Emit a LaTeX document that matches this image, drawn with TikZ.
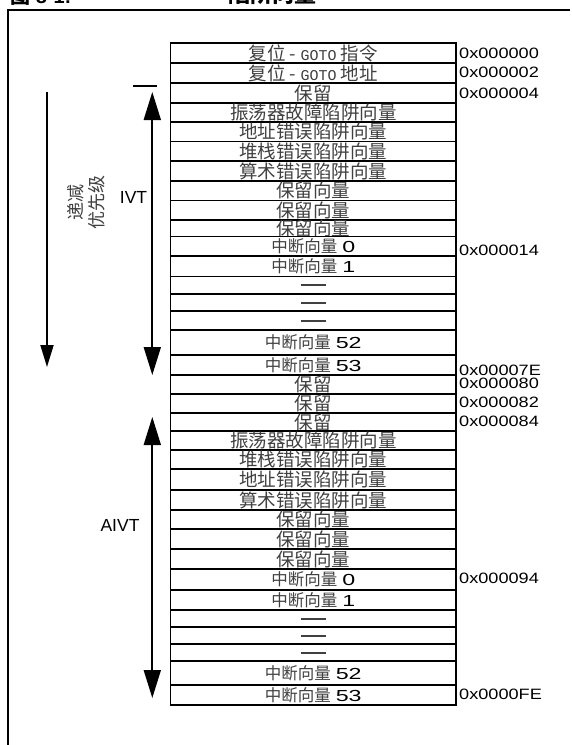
\documentclass[tikz,border=0pt]{standalone}
\usepackage{fontspec}
\setmainfont{Liberation Sans}
\newfontfamily\cjk{Noto Sans CJK SC}
\newfontfamily\monofam{Liberation Mono}
\usetikzlibrary{arrows.meta}
\tikzset{
  cell/.style={draw=black, line width=1.8pt, minimum width=285.5pt, inner sep=0pt,
    text height=14pt, text depth=0pt, font=\fontsize{18.5}{18.5}\cjk, text=black!75},
  intcell/.style={cell, text height=12pt, font=\fontsize{16.5}{16.5}\cjk},
  addr/.style={anchor=west, inner sep=0pt, font=\fontsize{15}{15}\selectfont},
  rangearrow/.style={line width=1.8pt, {Triangle[width=17pt,length=28pt]}-{Triangle[width=17pt,length=28pt]}},
  prioarrow/.style={line width=1.8pt, -{Triangle[width=13pt,length=22pt]}},
  tablabel/.style={inner sep=0pt, font=\fontsize{17.5}{17.5}\selectfont},
  frameline/.style={line width=2pt},
}
\newcommand{\dashL}{\rule[6pt]{25pt}{2pt}\hspace{26pt}}
\newcommand{\dashR}{\rule[6pt]{25pt}{2pt}\hspace{12pt}}
\newcommand{\gotoword}{{\fontsize{15}{15}\monofam GOTO}}
\newcommand{\num}[1]{\hspace{5pt}{\fontsize{16}{16}\rmfamily\color{black}\scalebox{1.45}[1]{#1}}}
\newcommand{\adr}[1]{\scalebox{1.21}[1]{#1}}
\begin{document}
\begin{tikzpicture}[x=1pt,y=-1pt]
\useasboundingbox (0,0) rectangle (571,745);
% title (cut off at top)
\node[anchor=base west, inner sep=0pt, font=\fontsize{20}{20}\bfseries] (title) at (10,3) {{\cjk 图} 8-1:};
\node[anchor=base west, inner sep=0pt, font=\fontsize{22}{22}\bfseries\cjk] (title2) at (228,2) {陷阱向量};
% frame
\coordinate (fbl) at (8,745);
\coordinate (ftl) at (8,10);
\coordinate (ftr) at (570,10);
\draw[frameline] (fbl) -- (ftl) -- (ftr);
% IVT rows
\node[cell, minimum height=20pt] (r1) at (313.25,53) {复位 - \gotoword\ 指令};
\node[cell, minimum height=20pt] (r2) at (313.25,73) {复位 - \gotoword\ 地址};
\node[cell, minimum height=20pt] (r3) at (313.25,93) {保留};
\node[cell, minimum height=19pt] (r4) at (313.25,112.5) {振荡器故障陷阱向量};
\node[cell, minimum height=19.5pt] (r5) at (313.25,131.75) {地址错误陷阱向量};
\node[cell, minimum height=19.5pt] (r6) at (313.25,151.25) {堆栈错误陷阱向量};
\node[cell, minimum height=20pt] (r7) at (313.25,171) {算术错误陷阱向量};
\node[cell, minimum height=19.5pt] (r8) at (313.25,190.75) {保留向量};
\node[cell, minimum height=19.5pt] (r9) at (313.25,210.25) {保留向量};
\node[cell, minimum height=16.5pt] (r10) at (313.25,228.25) {保留向量};
\node[intcell, minimum height=19.5pt] (r11) at (313.25,246.25) {中断向量\num{0}};
\node[intcell, minimum height=20.5pt] (r12) at (313.25,266.25) {中断向量\num{1}};
\node[cell, minimum height=17.5pt] (r13) at (313.25,285.25) {\dashL};
\node[cell, minimum height=17pt] (r14) at (313.25,302.5) {\dashL};
\node[cell, minimum height=19pt] (r15) at (313.25,320.5) {\dashL};
\node[intcell, minimum height=25pt] (r16) at (313.25,342.5) {中断向量\num{52}};
\node[intcell, minimum height=20pt] (r17) at (313.25,365) {中断向量\num{53}};
\node[cell, minimum height=19pt] (r18) at (313.25,384.5) {保留};
\node[cell, minimum height=19pt] (r19) at (313.25,403.5) {保留};
\node[cell, minimum height=18pt] (r20) at (313.25,422) {保留};
% AIVT rows
\node[cell, minimum height=19pt] (r21) at (313.25,440.5) {振荡器故障陷阱向量};
\node[cell, minimum height=19pt] (r22) at (313.25,459.5) {堆栈错误陷阱向量};
\node[cell, minimum height=21pt] (r23) at (313.25,479.5) {地址错误陷阱向量};
\node[cell, minimum height=20pt] (r24) at (313.25,500) {算术错误陷阱向量};
\node[cell, minimum height=19pt] (r25) at (313.25,519.5) {保留向量};
\node[cell, minimum height=20pt] (r26) at (313.25,539) {保留向量};
\node[cell, minimum height=20pt] (r27) at (313.25,559) {保留向量};
\node[intcell, minimum height=21pt] (r28) at (313.25,579.5) {中断向量\num{0}};
\node[intcell, minimum height=20pt] (r29) at (313.25,600) {中断向量\num{1}};
\node[cell, minimum height=17pt] (r30) at (313.25,618.5) {\dashR};
\node[cell, minimum height=17pt] (r31) at (313.25,635.5) {\dashR};
\node[cell, minimum height=17pt] (r32) at (313.25,652.5) {\dashR};
\node[intcell, minimum height=24pt] (r33) at (313.25,673) {中断向量\num{52}};
\node[intcell, minimum height=20pt] (r34) at (313.25,695) {中断向量\num{53}};
% addresses
\node[addr] (a0) at (459,53) {\adr{0x000000}};
\node[addr] (a2) at (459,72) {\adr{0x000002}};
\node[addr] (a4) at (459,93) {\adr{0x000004}};
\node[addr] (a14) at (459,250) {\adr{0x000014}};
\node[addr] (a7e) at (459,370) {\adr{0x00007E}};
\node[addr] (a80) at (459,383) {\adr{0x000080}};
\node[addr] (a82) at (459,402) {\adr{0x000082}};
\node[addr] (a84) at (459,421) {\adr{0x000084}};
\node[addr] (a94) at (459,578) {\adr{0x000094}};
\node[addr] (afe) at (459,694.5) {\adr{0x0000FE}};
% decreasing priority arrow
\coordinate (prioTop) at (47,92);
\coordinate (prioBot) at (47,367);
\draw[prioarrow] (prioTop) -- (prioBot);
\node[rotate=90, align=center, inner sep=0pt, font=\fontsize{18}{21}\cjk, text=black!75] (prio) at (86,202) {递减\\优先级};
% IVT range
\coordinate (tickL) at (133,86);
\coordinate (tickR) at (157,86);
\draw[line width=1.8pt] (tickL) -- (tickR);
\coordinate (ivtTop) at (152.3,92);
\coordinate (ivtBot) at (152.3,375);
\draw[rangearrow] (ivtTop) -- (ivtBot);
\node[tablabel] (ivt) at (133.5,197) {IVT};
% AIVT range
\coordinate (aivtTop) at (152.3,417);
\coordinate (aivtBot) at (152.3,698);
\draw[rangearrow] (aivtTop) -- (aivtBot);
\node[tablabel] (aivt) at (120,525) {AIVT};
\end{tikzpicture}
\end{document}
